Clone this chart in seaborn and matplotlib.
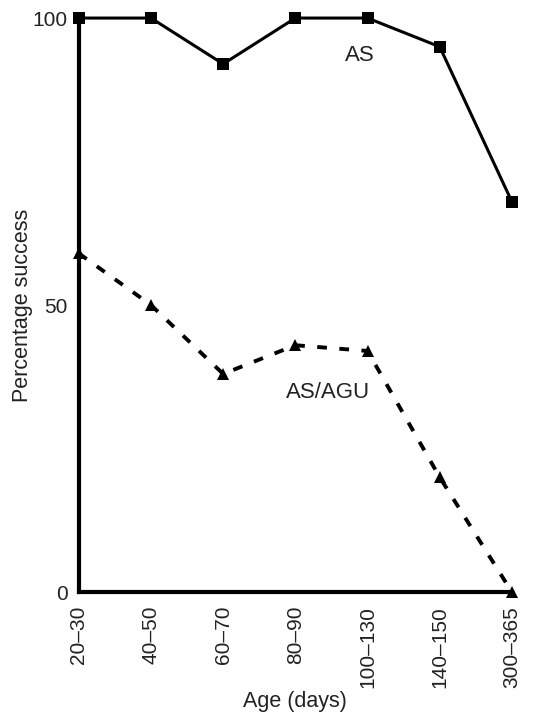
import numpy as np
import pandas as pd
import matplotlib
matplotlib.use("Agg")
import matplotlib.pyplot as plt
import seaborn as sns

ages = ["20–30", "40–50", "60–70", "80–90", "100–130", "140–150", "300–365"]
as_success = [100, 100, 92, 100, 100, 95, 68]
asagu_success = [59, 50, 38, 43, 42, 20, 0]
yticks = [0, 50, 100]

sns.set_style("white")
plt.rcParams['font.family'] = ['Liberation Sans', 'DejaVu Sans']

df = pd.DataFrame({
    "pos": np.arange(len(ages)),
    "age": ages,
    "AS": as_success,
    "AS/AGU": asagu_success,
})

fig = plt.figure(figsize=(5.36, 7.22), dpi=100)
ax = fig.add_axes([0.147, 0.180, 0.808, 0.795])

sns.lineplot(data=df, x="pos", y="AS", ax=ax, color="black", lw=2.2,
             marker="s", markersize=8, markeredgewidth=0, clip_on=False)
sns.lineplot(data=df, x="pos", y="AS/AGU", ax=ax, color="black", lw=2.8,
             marker="^", markersize=8, markeredgewidth=0, clip_on=False)
ax.lines[-1].set_dashes([2.5, 3.2])

ax.set_xlim(0, len(ages) - 1)
ax.set_ylim(0, 100)
ax.set_xticks(df["pos"])
ax.set_xticklabels(ages, rotation=90, fontsize=15, color="#222222")
ax.set_yticks(yticks)
ax.set_yticklabels([str(v) for v in yticks], fontsize=15, color="#222222")

for side in ["top", "right"]:
    ax.spines[side].set_visible(False)
for side in ["left", "bottom"]:
    ax.spines[side].set_linewidth(3)
    ax.spines[side].set_color("black")
    ax.spines[side].set_zorder(1)

ax.tick_params(axis="x", direction="inout", length=12, width=2.5, pad=4, colors="black",
               labelcolor="#222222")
ax.tick_params(axis="y", direction="out", length=6, width=2.5, pad=2, colors="black",
               labelcolor="#222222")

ax.set_xlabel("Age (days)", fontsize=15.5, labelpad=2, color="#222222")
ax.set_ylabel("Percentage success", fontsize=15.5, labelpad=0, color="#222222")

ax.text(3.89, 93.4, "AS", fontsize=16, ha="center", va="center", color="#222222")
ax.text(3.45, 34.7, "AS/AGU", fontsize=16, ha="center", va="center", color="#222222")

fig.savefig("out.png", dpi=100, facecolor="white")
